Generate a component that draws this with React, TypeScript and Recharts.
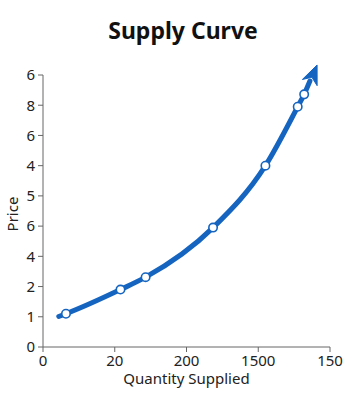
import React from "react";
import { ComposedChart, Line, Scatter, XAxis, YAxis, ReferenceDot, Label } from "recharts";

const xTickValues = [0, 1, 2, 3, 4];
const xTickLabels = ["0", "20", "200", "1500", "150"];
const yTickValues = [0, 1, 2, 3, 4, 5, 6, 7, 8, 9];
const yTickLabels = ["0", "1", "2", "4", "6", "5", "4", "6", "8", "6"];

const curveQty = [0.22, 0.32, 1.08, 1.43, 2.37, 3.1, 3.55, 3.64, 3.72];
const curvePrice = [1.01, 1.1, 1.9, 2.31, 3.95, 6.0, 7.95, 8.36, 8.8];

const markerQty = [0.32, 1.08, 1.43, 2.37, 3.1, 3.55, 3.64];
const markerPrice = [1.1, 1.9, 2.31, 3.95, 6.0, 7.95, 8.36];

const arrowTip = { q: 3.82, p: 9.33 };

const BLUE = "#1565c0";
const FONT = "'Noto Sans', 'Open Sans', sans-serif";

const curveData = curveQty.map((q, i) => ({ q, p: curvePrice[i] }));
const markerData = markerQty.map((q, i) => ({ q, p: markerPrice[i] }));

const ArrowHead = (props: any) => {
  const { cx, cy } = props;
  if (cx == null || cy == null) return null;
  const angle = Math.atan2(31, -13);
  const len = 19;
  const half = 8;
  const bx = cx + Math.cos(angle) * len;
  const by = cy + Math.sin(angle) * len;
  const nx = -Math.sin(angle);
  const ny = Math.cos(angle);
  const notchX = cx + Math.cos(angle) * (len * 0.7);
  const notchY = cy + Math.sin(angle) * (len * 0.7);
  const d = `M${cx},${cy} L${bx + nx * half},${by + ny * half} L${notchX},${notchY} L${bx - nx * half},${by - ny * half} Z`;
  return <path d={d} fill={BLUE} stroke={BLUE} strokeWidth={1} />;
};

const MarkerDot = (props: any) => {
  const { cx, cy } = props;
  return <circle cx={cx} cy={cy} r={4.2} fill="#ffffff" stroke={BLUE} strokeWidth={1.6} />;
};

const PriceLabel = () => (
  <text
    x={12}
    y={214}
    transform="rotate(-90 12 214)"
    textAnchor="middle"
    dominantBaseline="central"
    fill="#222"
    fontSize={15}
    fontFamily={FONT}
  >
    Price
  </text>
);

const tickStyle = { fill: "#222", fontSize: 15, fontFamily: FONT };

export default function App() {
  return (
    <div style={{ position: "absolute", left: 0, top: 0, width: 360, height: 405, background: "#fff" }}>
      <div
        style={{
          position: "absolute",
          left: 0,
          top: 14,
          width: 366,
          textAlign: "center",
          fontFamily: FONT,
          fontWeight: 700,
          fontSize: 23,
          color: "#111",
        }}
      >
        Supply Curve
      </div>
      <ComposedChart
        width={360}
        height={405}
        margin={{ top: 75, right: 30, bottom: 28, left: 0 }}
        style={{ fontFamily: FONT }}
      >
        <XAxis
          type="number"
          dataKey="q"
          domain={[0, 4]}
          ticks={xTickValues}
          tickFormatter={(v: number) => xTickLabels[xTickValues.indexOf(v)] ?? ""}
          height={30}
          stroke="#666"
          tick={tickStyle}
          tickSize={5}
          tickMargin={3}
          interval={0}
        >
          <Label value="Quantity Supplied" position="insideBottom" offset={-7} fill="#222" fontSize={15} fontFamily={FONT} />
        </XAxis>
        <YAxis
          type="number"
          dataKey="p"
          domain={[0, 9]}
          ticks={yTickValues}
          tickFormatter={(v: number) => yTickLabels[yTickValues.indexOf(v)] ?? ""}
          width={43}
          stroke="#666"
          tick={tickStyle}
          tickSize={5}
          tickMargin={3}
          interval={0}
        >
          <Label content={PriceLabel} />
        </YAxis>
        <Line
          data={curveData}
          dataKey="p"
          type="monotone"
          stroke={BLUE}
          strokeWidth={5}
          strokeLinecap="round"
          dot={false}
          activeDot={false}
          isAnimationActive={false}
        />
        <Scatter data={markerData} dataKey="p" shape={MarkerDot} isAnimationActive={false} />
        <ReferenceDot x={arrowTip.q} y={arrowTip.p} ifOverflow="visible" shape={ArrowHead} />
      </ComposedChart>
    </div>
  );
}
